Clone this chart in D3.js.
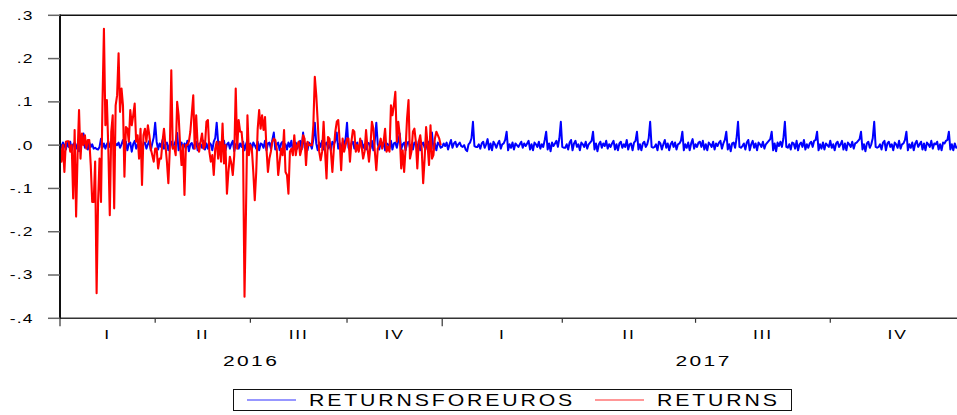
<!DOCTYPE html>
<html>
<head>
<meta charset="utf-8">
<script src="https://cdn.jsdelivr.net/npm/d3@7/dist/d3.min.js"></script>
<style>
  html, body { margin: 0; padding: 0; background: #fff; }
  svg { display: block; }
  text { font-family: "Liberation Sans", Arial, sans-serif; fill: #000; }
</style>
</head>
<body>
<svg id="chart" width="957" height="415"></svg>
<script>
// Observations per quarter (2016 on a 5-day week, 2017 on a 7-day week)
const quarterObs = [65, 65, 66, 65, 82, 91, 92, 92];
const quarterLabels = ["I", "II", "III", "IV", "I", "II", "III", "IV"];
const years = ["2016", "2017"];
const quartersPerYear = 4;
const yTicks = [0.3, 0.2, 0.1, 0.0, -0.1, -0.2, -0.3, -0.4];
const yTickLabels = [".3", ".2", ".1", ".0", "-.1", "-.2", "-.3", "-.4"];
const seriesNames = ["RETURNSFOREUROS", "RETURNS"];

// RETURNS: daily returns, 2016
const returns = [
  0.000, -0.038, 0.000, -0.062, 0.008, 0.009, 0.009, -0.015, 0.000, -0.123,
  0.035, -0.165, -0.023, 0.081, -0.031, 0.027, 0.000, 0.023, -0.008, 0.012,
  0.012, -0.046, -0.131, -0.131, -0.038, -0.342, -0.131, -0.031, -0.131, 0.096,
  0.269, 0.046, 0.104, -0.008, -0.162, 0.031, 0.069, -0.146, 0.092, 0.115,
  0.212, 0.077, 0.131, 0.092, -0.073, 0.042, 0.038, 0.008, 0.081, 0.046,
  0.069, 0.096, 0.008, 0.023, -0.031, 0.038, -0.092, 0.023, 0.038, 0.008,
  0.046, 0.023, -0.008, -0.023, -0.038, -0.008, -0.008, -0.054, -0.031, -0.031,
  0.008, 0.038, 0.000, -0.038, -0.088, -0.008, 0.173, -0.008, -0.004, -0.023,
  0.100, 0.069, 0.000, -0.046, 0.000, -0.115, 0.000, 0.000,
  0.008, 0.031, 0.073, 0.115, -0.008, 0.069, 0.000, -0.015,
  0.008, 0.027, -0.008, 0.000, 0.054, 0.058, -0.015, -0.038, -0.023, -0.069,
  -0.008, 0.008, -0.031, 0.008, -0.038, 0.050, -0.042, 0.000,
  -0.112, -0.062, -0.027, -0.042, -0.069, -0.023, 0.131, -0.008, 0.058, 0.031,
  0.031, -0.008, -0.350, -0.154, 0.069, -0.023, 0.000, -0.008, -0.062, -0.127,
  -0.062, 0.038, 0.081, 0.038, 0.069, 0.035, 0.065, -0.008, -0.062, -0.031,
  -0.015, 0.008, 0.015, 0.012, -0.008, -0.069, -0.038, -0.008, -0.023, 0.035,
  -0.062, -0.069, -0.112, -0.015, -0.008, -0.023, 0.023, -0.023,
  0.000, 0.008, -0.023, -0.008, 0.023, 0.015, -0.046, 0.008, 0.000, 0.000,
  0.000, 0.046, 0.158, 0.115,
  0.054, -0.015, -0.035, -0.015, 0.054, -0.015, -0.077, 0.019, 0.015, -0.015,
  -0.062, -0.008, 0.031, 0.054, 0.058, 0.008, -0.058, 0.015, -0.015, 0.000,
  0.015, 0.015, -0.038, 0.008, 0.035, 0.031, -0.015, 0.000, -0.015, 0.015,
  -0.004, -0.031, -0.015, 0.035, -0.008, -0.038, 0.000, 0.054, 0.038, -0.015,
  -0.058, -0.008, 0.000, 0.015, -0.008, 0.008, 0.038, -0.015, -0.004, -0.015,
  0.092, 0.069, 0.092, 0.123, 0.008, 0.054, 0.023, -0.054, -0.012, -0.062,
  -0.008, 0.062, 0.104, -0.031, -0.015, 0.031, 0.038, 0.008, -0.054, 0.008,
  0.023, -0.008, -0.088, -0.031, 0.042, 0.000, -0.046, 0.046, -0.031, -0.023,
  0.015, 0.031, 0.023, 0.015, 0.000
];

// RETURNSFOREUROS, 2016 part
const euroReturns2016 = [
  0.004, -0.006, 0.006, 0.000, -0.010, 0.005, -0.004, 0.008, -0.012, 0.002, 0.006, -0.008, 0.003, -0.014, 0.002, 0.010, 0.027, -0.006, 0.004, -0.010,
  0.006, -0.004, 0.002, -0.008, -0.006, -0.009, -0.010, -0.004, 0.015, -0.006, 0.004, -0.008, 0.002, 0.008, -0.004, 0.006, 0.027, -0.010, 0.003, 0.000,
  0.006, -0.006, 0.002, 0.012, -0.004, 0.008, -0.012, 0.004, 0.006, -0.015, 0.003, 0.010, -0.008, 0.002, -0.006, 0.008, -0.014, 0.004, 0.006, -0.008,
  0.002, 0.010, -0.012, 0.004, 0.018, 0.052, 0.008, -0.010, 0.004, -0.004, 0.012, -0.008, 0.002, 0.006, -0.012, 0.003, 0.008, -0.006, 0.002, 0.010,
  0.028, -0.012, 0.002, 0.006, -0.010, 0.004, -0.006, 0.010, -0.014, 0.002, 0.005, -0.008, 0.003, 0.008, -0.012, 0.004, 0.002, -0.006, 0.010, -0.010,
  0.004, -0.008, 0.006, 0.002, -0.012, 0.008, 0.016, 0.052, 0.006, -0.010, 0.004, -0.006, 0.010, -0.012, 0.002, 0.006, -0.008, 0.003, 0.010, -0.014,
  0.002, 0.006, -0.008, 0.004, -0.004, 0.008, -0.012, 0.002, 0.012, -0.006, 0.004, -0.010, 0.006, 0.000, -0.008, 0.008, -0.012, 0.004, 0.002, -0.006,
  0.010, -0.012, 0.004, 0.006, -0.008, 0.012, 0.029, -0.010, 0.002, 0.006, -0.012, 0.004, 0.008, -0.006, 0.002, -0.010, 0.006, -0.004, 0.010, -0.012,
  0.004, 0.006, -0.008, 0.002, 0.010, -0.010, 0.029, -0.006, 0.004, -0.012, 0.006, 0.002, -0.008, 0.014, 0.052, 0.004, -0.012, 0.006, -0.004, 0.010,
  -0.010, 0.002, 0.006, -0.008, 0.004, -0.012, 0.008, 0.002, 0.010, 0.029, -0.008, 0.004, -0.010, 0.006, 0.002, 0.014, 0.052, -0.006, -0.012, 0.004,
  0.008, -0.008, 0.002, 0.006, -0.012, 0.004, 0.010, -0.006, 0.002, -0.010, 0.006, 0.004, -0.008, 0.010, -0.012, 0.012, 0.052, 0.002, -0.010, 0.006,
  -0.004, 0.008, -0.012, 0.004, 0.002, -0.008, 0.010, -0.010, 0.004, 0.006, -0.006, 0.010, 0.027, -0.010, 0.002, 0.006, -0.012, 0.004, 0.008, -0.006,
  0.002, -0.010, 0.006, 0.004, -0.008, 0.010, -0.012, 0.002, 0.006, -0.006, 0.004, -0.010, 0.008, 0.010, 0.029, -0.008, 0.004, -0.012, 0.006, 0.002,
  -0.006
];

// RETURNSFOREUROS, 2017 part
const euroReturns2017 = [
  -0.004, 0.004, -0.002, 0.006, -0.010, 0.002, 0.012, -0.006, 0.004, 0.008, -0.004, 0.002, 0.006, -0.002, -0.004, 0.000, -0.010, -0.014, 0.002, 0.006,
  0.016, 0.054, -0.002, -0.004, -0.004, 0.002, -0.008, 0.004, 0.008, -0.006, 0.002, 0.014, -0.010, 0.004, -0.012, 0.008, 0.002, -0.006, 0.004, 0.010,
  -0.008, 0.002, 0.004, 0.012, 0.031, -0.012, 0.002, -0.006, 0.006, -0.010, 0.004, 0.000, -0.004, 0.002, 0.008, -0.006, 0.004, -0.002, 0.004, 0.010,
  -0.010, 0.002, -0.012, 0.006, 0.002, -0.004, 0.008, -0.008, 0.002, -0.004, 0.012, 0.031, -0.010, 0.004, -0.014, 0.006, -0.002, 0.004, 0.010, -0.004,
  0.016, 0.054, -0.004, -0.006, -0.006, 0.002, -0.010, 0.006, 0.012, -0.012, 0.004, 0.010, -0.004, 0.002, -0.012, 0.006, 0.002, -0.004, 0.008, -0.008,
  0.002, 0.006, 0.010, 0.031, -0.010, 0.004, -0.014, 0.002, 0.008, -0.006, 0.004, -0.002, 0.010, -0.008, 0.002, -0.004, 0.004, 0.010, -0.010, 0.002,
  -0.012, 0.004, 0.008, -0.006, 0.002, -0.004, 0.012, -0.010, 0.002, 0.004, -0.012, 0.006, 0.010, 0.031, -0.010, 0.002, -0.012, 0.004, 0.008, -0.004,
  0.002, 0.016, 0.054, -0.004, -0.006, -0.004, 0.002, -0.012, 0.008, 0.004, -0.010, 0.002, 0.012, -0.006, 0.004, -0.012, 0.002, 0.008, -0.004, 0.006,
  -0.010, 0.002, 0.004, 0.010, 0.031, -0.012, 0.002, -0.006, 0.006, -0.012, 0.004, 0.014, -0.008, 0.002, -0.004, 0.006, 0.008, -0.004, 0.010, -0.010,
  0.002, -0.012, 0.006, 0.002, -0.004, 0.008, -0.010, 0.004, -0.002, 0.006, 0.010, -0.008, 0.004, 0.012, 0.031, -0.010, 0.002, -0.014, 0.004, 0.006,
  -0.006, 0.016, 0.054, -0.004, -0.006, -0.002, 0.004, -0.010, 0.006, 0.012, -0.012, 0.002, 0.010, -0.006, 0.004, -0.012, 0.006, 0.002, -0.004, 0.008,
  -0.008, 0.002, 0.006, 0.010, 0.014, 0.031, -0.012, 0.004, -0.014, 0.006, -0.002, 0.008, -0.004, 0.016, 0.054, -0.004, -0.006, 0.002, -0.010, 0.006,
  0.004, -0.008, 0.010, -0.012, 0.002, 0.006, -0.004, 0.012, -0.010, 0.002, -0.006, 0.004, 0.008, -0.004, 0.010, 0.012, 0.031, -0.012, 0.002, -0.008,
  0.006, -0.010, 0.004, 0.000, -0.004, 0.010, -0.006, 0.002, -0.012, 0.004, 0.008, -0.004, 0.002, 0.010, -0.010, 0.004, -0.012, 0.006, 0.002, -0.004,
  0.008, -0.008, 0.004, 0.006, 0.010, 0.014, 0.031, -0.010, 0.002, -0.014, 0.004, 0.008, -0.006, 0.002, 0.016, 0.054, -0.004, -0.006, -0.004, 0.002,
  -0.010, 0.006, 0.010, -0.012, 0.004, 0.008, -0.004, 0.002, -0.012, 0.006, 0.002, -0.006, 0.010, -0.008, 0.002, 0.004, 0.012, 0.031, -0.012, 0.002,
  -0.006, 0.006, -0.012, 0.004, 0.010, -0.004, 0.002, 0.008, -0.010, 0.004, -0.012, 0.006, 0.002, -0.004, 0.010, -0.008, 0.004, 0.002, 0.008, -0.010,
  0.002, -0.012, 0.006, 0.004, 0.010, 0.012, 0.031, -0.010, 0.002, -0.012, 0.004, -0.006, -0.004, 0.002, -0.008, 0.004, 0.006
];

const returnsForEuros = euroReturns2016.concat(euroReturns2017);

// ---- layout ----
const svg = d3.select("#chart");
const W = 957, H = 415;
const plot = { left: 60, top: 15.3, bottom: 318.3, right: 965 };
const totalObs = d3.sum(quarterObs);

const x = d3.scaleLinear().domain([0, totalObs]).range([plot.left, plot.right]);
const y = d3.scaleLinear().domain([-0.4, 0.3]).range([plot.bottom, plot.top]);

svg.append("rect").attr("width", W).attr("height", H).attr("fill", "#fff");

// quarter boundaries in observation units
const bounds = [0, ...Array.from(d3.cumsum(quarterObs))];

// wide-set labels: glyphs stretched horizontally by sx
function wideText(parent, px, py, str, o) {
  const gg = parent.append("g").attr("transform", `translate(${px},${py}) scale(${o.sx},1)`);
  return gg.append("text")
    .attr("x", 0).attr("y", 0)
    .attr("text-anchor", o.anchor || "start")
    .attr("font-size", o.size)
    .attr("letter-spacing", o.ls || 0)
    .text(str);
}

// series, clipped to the plot area
svg.append("clipPath").attr("id", "plotclip")
  .append("rect").attr("x", plot.left).attr("y", plot.top)
  .attr("width", plot.right - plot.left).attr("height", plot.bottom - plot.top);

const line = d3.line().x((d, i) => x(i)).y(d => y(d));
const g = svg.append("g").attr("clip-path", "url(#plotclip)");

g.append("path").datum(returnsForEuros)
  .attr("d", line).attr("fill", "none")
  .attr("stroke", "#0000ff").attr("stroke-width", 2).attr("stroke-linejoin", "round");

g.append("path").datum(returns)
  .attr("d", line).attr("fill", "none")
  .attr("stroke", "#ff0000").attr("stroke-width", 2.1).attr("stroke-linejoin", "round");

// frame
svg.append("line").attr("x1", plot.left).attr("x2", W).attr("y1", plot.top).attr("y2", plot.top)
  .attr("stroke", "#111").attr("stroke-width", 1.5);
svg.append("line").attr("x1", plot.left).attr("x2", W).attr("y1", plot.bottom).attr("y2", plot.bottom)
  .attr("stroke", "#333").attr("stroke-width", 1.5);
svg.append("line").attr("x1", plot.left).attr("x2", plot.left).attr("y1", plot.top - 0.7).attr("y2", plot.bottom + 0.7)
  .attr("stroke", "#111").attr("stroke-width", 2);

// y axis
const yAxis = svg.append("g");
yAxis.selectAll("line.ytick").data(yTicks).join("line").attr("class", "ytick")
  .attr("x1", 48).attr("x2", plot.left).attr("y1", d => y(d)).attr("y2", d => y(d))
  .attr("stroke", "#666").attr("stroke-width", 1.5);
yTicks.forEach((v, i) => {
  wideText(yAxis, 33.5, y(v) + 4.4, yTickLabels[i], { sx: 1.4, size: 12.5, ls: 0.8, anchor: "end" });
});

// x axis ticks at quarter boundaries, longer at year boundaries
svg.selectAll("line.xtick").data(bounds).join("line").attr("class", "xtick")
  .attr("x1", d => x(d)).attr("x2", d => x(d))
  .attr("y1", plot.bottom)
  .attr("y2", (d, i) => plot.bottom + (i % quartersPerYear === 0 ? 8 : 4.5))
  .attr("stroke", "#333").attr("stroke-width", 1.2);

const xAxis = svg.append("g");
quarterLabels.forEach((q, i) => {
  wideText(xAxis, x((bounds[i] + bounds[i + 1]) / 2), 339, q, { sx: 1.4, size: 12.5, ls: 1.3, anchor: "middle" });
});
years.forEach((yr, i) => {
  const mid = (bounds[i * quartersPerYear] + bounds[(i + 1) * quartersPerYear]) / 2;
  wideText(xAxis, x(mid), 366, yr, { sx: 1.4, size: 15, ls: 1.7, anchor: "middle" });
});

// legend
const lg = svg.append("g");
lg.append("rect").attr("x", 233.5).attr("y", 389.5).attr("width", 558).attr("height", 21)
  .attr("fill", "#fff").attr("stroke", "#111").attr("stroke-width", 1);
const legendItems = [
  { name: seriesNames[0], color: "#3030ff", x0: 247, x1: 296, tx: 309 },
  { name: seriesNames[1], color: "#ff3030", x0: 595, x1: 644, tx: 657 }
];
legendItems.forEach(it => {
  lg.append("line").attr("x1", it.x0).attr("x2", it.x1).attr("y1", 400).attr("y2", 400)
    .attr("stroke", it.color).attr("stroke-width", 1.2);
  wideText(lg, it.tx, 406, it.name, { sx: 1.25, size: 17, ls: 2.3 });
});
</script>
</body>
</html>
